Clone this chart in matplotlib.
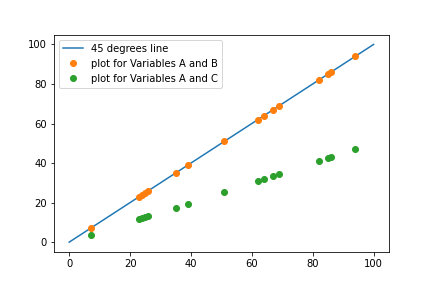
import numpy as np
import matplotlib.pyplot as plt

line_x = [0, 100]
line_y = [0, 100]

var_a = [7, 23, 24, 25, 26, 35, 39, 51, 62, 64, 67, 69, 82, 85, 86, 94]
var_b = [7, 23, 24, 25, 26, 35, 39, 51, 62, 64, 67, 69, 82, 85, 86, 94]
var_c = [3.5, 11.5, 12, 12.5, 13, 17.5, 19.5, 25.5, 31, 32, 33.5, 34.5, 41, 42.5, 43, 47]

plt.figure(figsize=(6, 4), dpi=72)
plt.subplots_adjust(bottom=0.125)
plt.plot(line_x, line_y, label='45 degrees line')
plt.plot(var_a, var_b, 'o', label='plot for Variables A and B')
plt.plot(var_a, var_c, 'o', label='plot for Variables A and C')
plt.legend()
plt.savefig('out.png')
